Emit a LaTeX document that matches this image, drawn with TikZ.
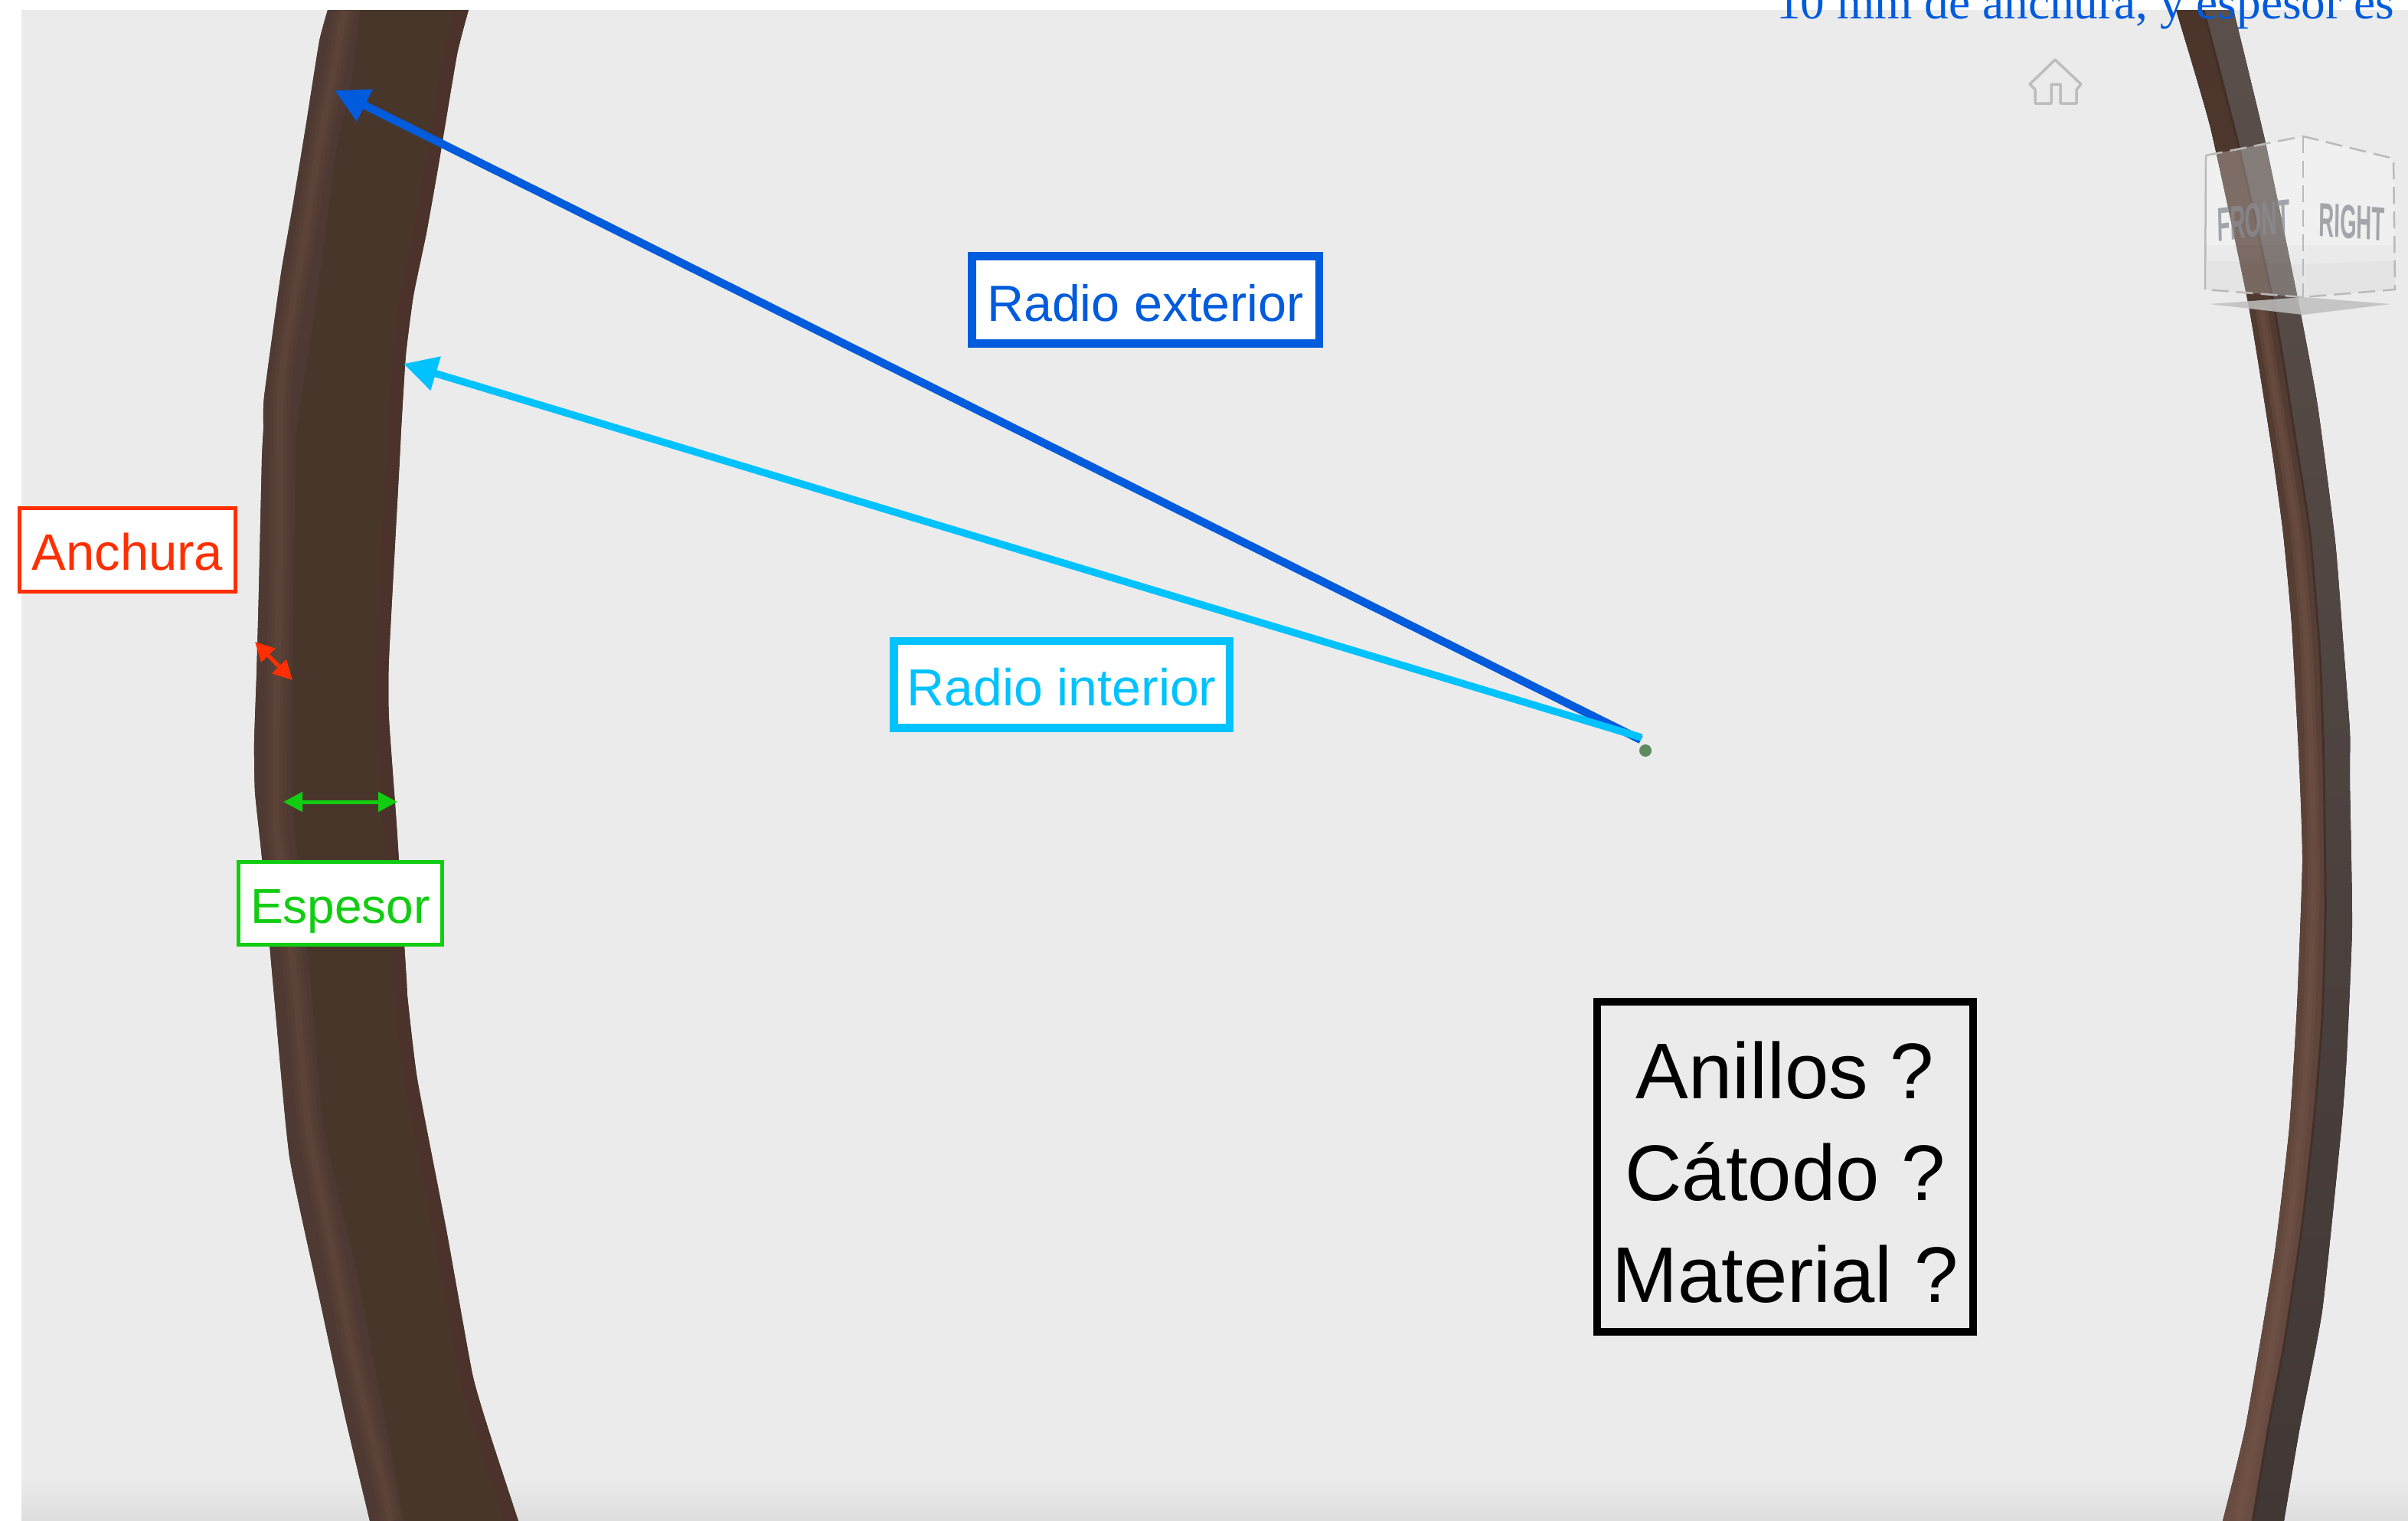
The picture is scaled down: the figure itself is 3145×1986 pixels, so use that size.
\documentclass[tikz,border=0pt]{standalone}
\usepackage{fontspec}
\setmainfont{Liberation Sans}
\newfontfamily\serifblue{Liberation Serif}
\usetikzlibrary{arrows.meta}
\definecolor{bgray}{HTML}{EBEBEB}
\definecolor{ringface}{HTML}{49362B}
\definecolor{ringband}{HTML}{4E3A32}
\definecolor{ringhiA}{HTML}{523C33}
\definecolor{ringhiB}{HTML}{573F36}
\definecolor{ringhiC}{HTML}{5C4339}
\definecolor{ringedge}{HTML}{4B332B}
\definecolor{frontmid}{HTML}{755649}
\definecolor{splitline}{HTML}{3D2C25}
\definecolor{dotgreen}{HTML}{5F8A5F}
\definecolor{gizmogray}{HTML}{8A8D94}
\definecolor{cred}{HTML}{FF2F00}
\definecolor{cgreen}{HTML}{12CC12}
\definecolor{cblue}{HTML}{005BDD}
\definecolor{ccyan}{HTML}{00C2FF}
\tikzset{
  labelbox/.style={draw=#1,text=#1,fill=white,inner sep=0pt,anchor=base},
  longarrow/.style={draw=#1,line width=10.5pt,-{Triangle[length=44pt,width=44pt]}},
  dimarrow/.style={draw=#1,line width=5pt,{Triangle[length=25pt,width=25pt]}-{Triangle[length=25pt,width=25pt]}},
  cubeedge/.style={draw=black!27,line width=2.5pt},
  cubedash/.style={cubeedge,dash pattern=on 22pt off 10pt},
  gizmotext/.style={text=gizmogray,opacity=.75,inner sep=0pt,font=\bfseries\fontsize{50}{50}\selectfont},
}
\begin{document}
\begin{tikzpicture}[x=1pt,y=-1pt]
\useasboundingbox (0,0) rectangle (3145,1986);
\clip (0,0) rectangle (3145,1986);
% background
\fill[white] (0,0) rectangle (3145,1986);
\fill[bgray] (28,13) rectangle (3145,1986);
\fill[top color=bgray,bottom color=black!13] (28,1930) rectangle (3145,1986);
% left ring
\def\LLeft{(428,13) (417,54) (400,161) (382,271) (367,357) (345,518) (344,560) (342,600) (338,773) (335,882) (332,969) (333,1034) (342,1120) (358,1300) (378,1510) (417,1694) (450,1847) (483,1986)}
\def\LRight{(677,1986) (640,1873) (617,1794) (583,1606) (545,1409) (532,1300) (531,1280) (518,1077) (508,938) (508,860) (522,600) (524,560) (530,464) (540,386) (557,304) (573,214) (597,71) (612,13)}
\def\LHigh{(450,13) (433,107) (413,214) (397,314) (367,500) (365,730) (361,947) (361,1077) (370,1150) (387,1300) (403,1475) (433,1628) (463,1781) (500,1934) (510,1986)}
\begin{scope}
\clip plot[smooth,tension=.3] coordinates {\LLeft} -- plot[smooth,tension=.3] coordinates {\LRight} -- cycle;
\fill[ringface] (300,0) rectangle (720,1986);
\draw[ringedge,line width=36pt] plot[smooth,tension=.3] coordinates {\LRight};
\fill[ringband] plot[smooth,tension=.3] coordinates {\LLeft} -- plot[smooth,tension=.3] coordinates {(527,1986) (497,1825) (463,1650) (423,1475) (407,1300) (388,1120) (381,1034) (381,903) (386,600) (387,560) (413,393) (440,189) (457,118) (467,36) (470,13)} -- cycle;
\draw[ringhiA,line width=28pt] plot[smooth,tension=.3] coordinates {\LHigh};
\draw[ringhiB,line width=18pt] plot[smooth,tension=.3] coordinates {\LHigh};
\draw[ringhiC,line width=9pt] plot[smooth,tension=.3] coordinates {\LHigh};
\end{scope}
% right ring
\def\RSplit{(2878,13) (2923,187) (2970,400) (3000,586) (3017,697) (3030,855) (3035,1000) (3037,1189) (3033,1327) (3023,1453) (3007,1597) (2983,1755) (2963,1862) (2942,1986)}
\fill[top color={rgb,255:red,90;green,79;blue,74},middle color={rgb,255:red,78;green,68;blue,66},bottom color={rgb,255:red,65;green,55;blue,53}]
  plot[smooth,tension=.3] coordinates {\RSplit} -- plot[smooth,tension=.3] coordinates {(2983,1986) (3003,1868) (3033,1711) (3058,1472) (3065,1377) (3072,1208) (3069,1020) (3069,954) (3060,835) (3050,708) (3027,530) (3003,400) (2959,187) (2917,13)} -- cycle;
\fill[top color={rgb,255:red,75;green,53;blue,43},middle color={rgb,255:red,93;green,67;blue,56},bottom color={rgb,255:red,105;green,76;blue,66}]
  plot[smooth,tension=.3] coordinates {(2842,13) (2887,167) (2937,400) (2967,586) (2982,697) (2993,815) (3003,1000) (3007,1126) (3000,1314) (2990,1472) (2970,1642) (2933,1862) (2903,1986)} -- plot[smooth,tension=.3] coordinates {(2942,1986) (2963,1862) (2983,1755) (3007,1597) (3023,1453) (3033,1327) (3037,1189) (3035,1000) (3030,855) (3017,697) (3000,586) (2970,400) (2923,187) (2878,13)} -- cycle;
\draw[frontmid,line width=16pt,opacity=.35] plot[smooth,tension=.3] coordinates {(2953,400) (2983,586) (3000,697) (3012,835) (3019,1000) (3022,1150) (3016,1320) (3006,1462) (2988,1620) (2958,1810) (2923,1986)};
\draw[frontmid,line width=7pt,opacity=.35] plot[smooth,tension=.3] coordinates {(2953,400) (2983,586) (3000,697) (3012,835) (3019,1000) (3022,1150) (3016,1320) (3006,1462) (2988,1620) (2958,1810) (2923,1986)};
\draw[splitline,line width=3pt,opacity=.7] plot[smooth,tension=.3] coordinates {\RSplit};
% view cube
\fill[black!25,opacity=.85] (2886,397) -- (3008,388) -- (3122,397) -- (3008,411) -- cycle;
\fill[white,opacity=.27] (2881,203) -- (3008,178) -- (3126,207) -- (3128,378) -- (3008,388) -- (2880,378) -- cycle;
\fill[black,opacity=.025] (2880,320) -- (3008,320) -- (3128,320) -- (3128,378) -- (3008,388) -- (2880,378) -- cycle;
\fill[black,opacity=.025] (2880,340) -- (3008,345) -- (3128,340) -- (3128,378) -- (3008,388) -- (2880,378) -- cycle;
\draw[cubeedge] (2881,203) -- (2880,378);
\draw[cubedash] (2881,203) -- (3008,178) -- (3126,207) -- (3128,378) -- (3008,388) -- (2880,378);
\draw[cubedash] (3008,178) -- (3008,388);
\node[gizmotext,xscale=.55,yscale=1.25,rotate=3] (front) at (2943,288) {FRONT};
\node[gizmotext,xscale=.55,yscale=1.25,rotate=-2] (right) at (3072,290) {RIGHT};
% home icon
\draw[black!26,line width=3.5pt,fill=bgray,line join=round] (2684,78) -- (2718,110) -- (2712,117) -- (2712,135) -- (2691,135) -- (2691,110) -- (2679,110) -- (2679,135) -- (2658,135) -- (2658,117) -- (2651,110) -- cycle;
% green dot and arrow end points
\fill[dotgreen] (2149,980) circle (8pt);
\coordinate (bstart) at (2143,966);
\coordinate (cstart) at (2144,963);
\coordinate (btip) at (437,118);
\coordinate (ctip) at (527,475);
\coordinate (rA) at (333,838);
\coordinate (rB) at (382,888);
\coordinate (gA) at (370,1047);
\coordinate (gB) at (519,1047);
\draw[longarrow=cblue] (bstart) -- (btip);
\draw[longarrow=ccyan,line width=9.5pt] (cstart) -- (ctip);
\draw[dimarrow=cred] (rA) -- (rB);
\draw[dimarrow=cgreen] (gA) -- (gB);
% labels
\node[labelbox=cred,line width=5pt,minimum width=282pt,text height=80.5pt,text depth=28.5pt,font=\fontsize{67}{70}\selectfont] (anchura) at (166.5,744) {Anchura};
\node[labelbox=cgreen,line width=5pt,minimum width=266pt,text height=79.5pt,text depth=28.5pt,font=\fontsize{64}{70}\selectfont] (espesor) at (444.5,1205) {Espesor};
\node[labelbox=cblue,line width=10.5pt,minimum width=453.5pt,text height=84.5pt,text depth=29.5pt,font=\fontsize{66.5}{70}\selectfont] (rext) at (1496,419) {Radio exterior};
\node[labelbox=ccyan,line width=10.5pt,minimum width=438.5pt,text height=84pt,text depth=29.5pt,font=\fontsize{68}{70}\selectfont] (rint) at (1386.5,921) {Radio interior};
\node[draw=black,line width=10pt,inner sep=0pt,minimum width=491pt,minimum height=431pt,align=center,font=\fontsize{103}{133}\selectfont] (quest) at (2331.5,1523.5) {\rule{0pt}{126pt}Anillos ?\\Cátodo ?\\Material ?\rule[-38pt]{0pt}{38pt}};
% clipped heading text
\node[anchor=base west,inner sep=0pt,text=cblue,font=\serifblue\fontsize{63.3}{70}\selectfont] (heading) at (2320,24) {10 mm de anchura, y espesor es 1};
\end{tikzpicture}
\end{document}
